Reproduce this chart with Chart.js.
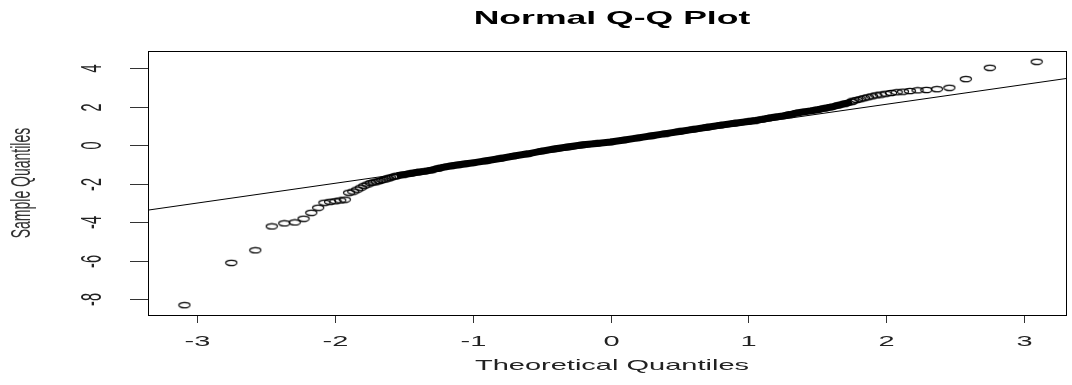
<!DOCTYPE html>
<html>
<head>
<meta charset="utf-8">
<script src="https://cdn.jsdelivr.net/npm/chart.js@4"></script>
<style>
  body { margin: 0; background: #fff; }
  #wrap { width: 1072px; height: 385px; position: relative; }
</style>
</head>
<body>
<div id="wrap"><canvas id="qqCanvas"></canvas></div>
<script>
// sample points (theoretical quantile, sample quantile)
const tailX = [-3.09, -2.75, -2.576, -2.457, -2.366, -2.29, -2.226, -2.17, -2.12, -2.075, -2.034, -1.995, -1.96, -1.927,
  -1.896, -1.866, -1.838, -1.811, -1.786, -1.762, -1.739, -1.717, -1.695, -1.675, -1.655, -1.635, -1.616, -1.598, -1.58, -1.563,
  1.76, 1.786, 1.811, 1.838, 1.866, 1.896, 1.927, 1.96, 1.995, 2.034, 2.075, 2.12, 2.17, 2.226, 2.29, 2.366, 2.457, 2.576, 2.75, 3.09];
const tailY = [-8.30, -6.10, -5.45, -4.21, -4.05, -4.00, -3.81, -3.50, -3.24, -2.98, -2.93, -2.90, -2.86, -2.82,
  -2.46, -2.40, -2.30, -2.20, -2.10, -2.03, -1.96, -1.92, -1.88, -1.85, -1.80, -1.77, -1.72, -1.68, -1.64, -1.61,
  2.32, 2.36, 2.40, 2.45, 2.50, 2.55, 2.60, 2.64, 2.68, 2.72, 2.76, 2.79, 2.82, 2.86, 2.88, 2.92, 2.99, 3.44, 4.03, 4.34];

// the dense middle of the sample, where the circles merge into a band
const bandX = [-1.55, -1.5, -1.45, -1.4, -1.35, -1.3, -1.25, -1.2, -1.15, -1.1, -1.05, -1.0, -0.9, -0.8, -0.7, -0.6, -0.5,
  -0.4, -0.3, -0.2, -0.1, 0, 0.1, 0.2, 0.3, 0.4, 0.5, 0.6, 0.7, 0.8, 0.9, 1.0, 1.05, 1.1, 1.15, 1.2, 1.25, 1.3, 1.35,
  1.4, 1.45, 1.5, 1.55, 1.6, 1.65, 1.7, 1.75];
const bandY = [-1.58, -1.52, -1.46, -1.40, -1.35, -1.29, -1.20, -1.12, -1.06, -1.01, -0.96, -0.91, -0.80, -0.68, -0.55,
  -0.44, -0.30, -0.18, -0.07, 0.03, 0.10, 0.17, 0.28, 0.39, 0.50, 0.61, 0.72, 0.83, 0.94, 1.05, 1.15, 1.24, 1.29, 1.35,
  1.42, 1.48, 1.53, 1.60, 1.68, 1.74, 1.79, 1.85, 1.92, 1.99, 2.08, 2.17, 2.26];

// qqline end points
const lineX = [-3.4, 3.4];
const lineY = [-3.41, 3.57];

const xTicks = [-3, -2, -1, 0, 1, 2, 3];
const yTicks = [-8, -6, -4, -2, 0, 2, 4];

const toPoints = (xs, ys) => xs.map((x, i) => ({ x: x, y: ys[i] }));

// open circle, stretched sideways like the original
const ring = document.createElement('canvas');
ring.width = 14; ring.height = 8;
const rc = ring.getContext('2d');
rc.strokeStyle = '#000';
rc.lineWidth = 1.2;
rc.beginPath();
rc.ellipse(7, 4, 5.6, 2.7, 0, 0, Math.PI * 2);
rc.stroke();

const FONT = '"Liberation Sans", Arial, sans-serif';
const SX = 2.0; // the picture is wide: text is stretched horizontally

function stretchedText(ctx, text, x, y, font, rot, color) {
  ctx.save();
  ctx.translate(x, y);
  ctx.scale(SX, 1);
  if (rot) ctx.rotate(rot);
  ctx.font = font;
  ctx.fillStyle = color;
  ctx.textAlign = 'center';
  ctx.textBaseline = 'middle';
  ctx.fillText(text, 0, 0);
  ctx.restore();
}

const rAxes = {
  id: 'rAxes',
  afterDraw(chart) {
    const ctx = chart.ctx;
    const a = chart.chartArea;
    const xs = chart.scales.x, ys = chart.scales.y;
    ctx.save();
    ctx.strokeStyle = '#000';
    ctx.lineWidth = 1;
    ctx.strokeRect(a.left + 0.5, a.top + 0.5, a.right - a.left - 1, a.bottom - a.top);
    ctx.strokeStyle = '#333';
    xTicks.forEach(v => {
      const px = Math.round(xs.getPixelForValue(v)) + 0.5;
      ctx.beginPath(); ctx.moveTo(px, a.bottom + 1); ctx.lineTo(px, a.bottom + 8); ctx.stroke();
      stretchedText(ctx, String(v), px, 342, '14.5px ' + FONT, 0, '#222');
    });
    yTicks.forEach(v => {
      const py = Math.round(ys.getPixelForValue(v)) + 0.5;
      ctx.beginPath(); ctx.moveTo(a.left - 18, py); ctx.lineTo(a.left, py); ctx.stroke();
      stretchedText(ctx, String(v), 93, py, '14.5px ' + FONT, -Math.PI / 2, '#222');
    });
    ctx.restore();
    stretchedText(ctx, 'Normal Q-Q Plot', 612, 19, 'bold 17.8px ' + FONT, 0, '#000');
    stretchedText(ctx, 'Theoretical Quantiles', 612, 366, '14.5px ' + FONT, 0, '#222');
    stretchedText(ctx, 'Sample Quantiles', 22, 183, '14px ' + FONT, -Math.PI / 2, '#333');
  }
};

new Chart(document.getElementById('qqCanvas').getContext('2d'), {
  type: 'scatter',
  data: {
    datasets: [{
      label: 'qqline',
      data: toPoints(lineX, lineY),
      showLine: true,
      borderColor: '#000',
      borderWidth: 1,
      pointRadius: 0
    }, {
      label: 'sample',
      data: toPoints(tailX, tailY).concat(toPoints(bandX, bandY)),
      pointStyle: ring,
      borderColor: '#000',
      backgroundColor: 'rgba(0,0,0,0)'
    }, {
      label: 'dense',
      data: toPoints(bandX, bandY),
      showLine: true,
      borderColor: '#000',
      borderWidth: 7,
      pointRadius: 0
    }]
  },
  options: {
    animation: false,
    responsive: true,
    maintainAspectRatio: false,
    layout: { padding: { left: 148, top: 51, right: 1, bottom: 70 } },
    scales: {
      x: { type: 'linear', min: -3.354, max: 3.31, display: false },
      y: { type: 'linear', min: -8.81, max: 4.90, display: false }
    },
    plugins: { legend: { display: false }, tooltip: { enabled: false } }
  },
  plugins: [rAxes]
});
</script>
</body>
</html>
